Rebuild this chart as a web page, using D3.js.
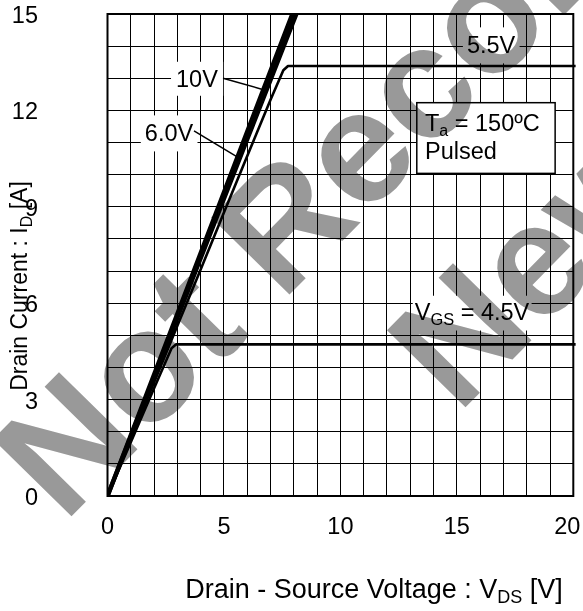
<!DOCTYPE html>
<html><head><meta charset="utf-8">
<script src="https://cdn.jsdelivr.net/npm/d3@7"></script>
<style>
html,body{margin:0;padding:0;background:#fff;}
svg text{font-family:"Liberation Sans",Arial,sans-serif;}
</style>
</head><body>
<svg id="c" width="583" height="611"></svg>
<script>
// ---- data ----
const xTicks = [0, 5, 10, 15, 20];
const yTicks = [0, 3, 6, 9, 12, 15];
const curve10V  = [[0,0],[1,1.89],[2,3.78],[3,5.67],[4,7.56],[5,9.45],[6,11.34],[7,13.23],[8,15.12]];
const curve6V   = [[0,0],[1,1.85],[2,3.7],[3,5.55],[4,7.4],[5,9.25],[6,11.1],[7,12.95],[8,14.8],[8.3,15.35]];
const curve5_5V = [[0,0],[1,1.77],[2,3.53],[3,5.3],[4,7.05],[5,8.82],[6,10.58],[7,12.33],[7.55,13.25],[7.75,13.38],[20.1,13.38]];
const curve4_5V = [[0,0],[1,1.67],[2,3.35],[2.75,4.6],[2.95,4.72],[20.1,4.72]];
const curveLabels = ["10V", "6.0V", "5.5V", "4.5V"];

const svg = d3.select("#c");
const L = 107.5, R = 573.3, T = 14, B = 496;
const x = d3.scaleLinear().domain([0, 20]).range([L, R]);
const y = d3.scaleLinear().domain([0, 15]).range([B, T]);

// grid
const g = svg.append("g");
g.selectAll(".vx").data(d3.range(1, 20)).join("line")
  .attr("x1", d => x(d)).attr("x2", d => x(d)).attr("y1", T).attr("y2", B)
  .attr("stroke", "#000").attr("stroke-width", 1).attr("shape-rendering", "crispEdges");
g.selectAll(".hy").data(d3.range(1, 15)).join("line")
  .attr("y1", d => y(d)).attr("y2", d => y(d)).attr("x1", L).attr("x2", R)
  .attr("stroke", "#000").attr("stroke-width", 1).attr("shape-rendering", "crispEdges");

// tick labels
svg.append("g").selectAll("text").data(xTicks).join("text")
  .attr("x", d => x(d)).attr("dx", d => d === 20 ? -6 : 0).attr("y", 534).attr("text-anchor", "middle")
  .attr("font-size", 23.5).text(d => d);
svg.append("g").selectAll("text").data(yTicks).join("text")
  .attr("x", 38).attr("y", d => y(d)).attr("dy", "0.38em").attr("text-anchor", "end")
  .attr("font-size", 23.5).text(d => d);

// curves
svg.append("clipPath").attr("id", "clip").append("rect")
  .attr("x", L).attr("y", T).attr("width", R - L + 3).attr("height", B - T);
const line = d3.line().x(d => x(d[0])).y(d => y(d[1]));
const cg = svg.append("g").attr("clip-path", "url(#clip)");
[[curve4_5V, 2.6], [curve5_5V, 2.6], [curve6V, 4.4], [curve10V, 4.4]].forEach(([c, w]) => {
  cg.append("path").datum(c).attr("d", line).attr("fill", "none")
    .attr("stroke", "#000").attr("stroke-width", w).attr("stroke-linejoin", "round");
});

// border
svg.append("rect").attr("x", L).attr("y", T).attr("width", R - L).attr("height", B - T)
  .attr("fill", "none").attr("stroke", "#000").attr("stroke-width", 2);

// labels with white backing
function label(parts, cx, cy, size) {
  const t = svg.append("text").attr("font-size", size).attr("x", cx).attr("y", cy)
    .attr("text-anchor", "middle");
  parts.forEach(p => {
    const s = t.append("tspan").text(p.t);
    if (p.sub) s.attr("font-size", size * 0.7).attr("baseline-shift", "-30%");
  });
  return t;
}
function backed(t, px, py) {
  const bb = t.node().getBBox();
  svg.insert("rect", function(){ return t.node(); })
    .attr("x", bb.x - px).attr("y", bb.y - py).attr("width", bb.width + 2 * px)
    .attr("height", bb.height + 2 * py).attr("fill", "#fff");
}
const l10 = label([{t: curveLabels[0]}], x(3.84), y(13.0) + 8.5, 23.5); backed(l10, 5, 4);
const l6 = label([{t: curveLabels[1]}], x(2.64), y(11.3) + 8.5, 23.5); backed(l6, 4, 5);
const l55 = label([{t: curveLabels[2]}], x(16.47), y(14.04) + 8.5, 23.5); backed(l55, 4, 5);
const l45 = label([{t: "V"}, {t: "GS", sub: true}, {t: " = " + curveLabels[3]}], x(15.65), y(5.75) + 8.5, 23.5); backed(l45, 2, 3);

// leader lines
svg.append("line").attr("x1", 223).attr("y1", y(13.0)).attr("x2", x(6.62)).attr("y2", y(12.66))
  .attr("stroke", "#000").attr("stroke-width", 1.5);
svg.append("line").attr("x1", 194).attr("y1", y(11.3) - 2).attr("x2", x(5.55)).attr("y2", y(10.56))
  .attr("stroke", "#000").attr("stroke-width", 1.5);

// Ta box
svg.append("rect").attr("x", x(13.28)).attr("y", y(12.24)).attr("width", x(19.22) - x(13.28))
  .attr("height", y(10.04) - y(12.24)).attr("fill", "#fff").attr("stroke", "#000").attr("stroke-width", 1.5);
const ta = svg.append("text").attr("font-size", 23.5).attr("x", 425).attr("y", 131);
ta.append("tspan").text("T");
ta.append("tspan").text("a").attr("font-size", 16).attr("baseline-shift", "-30%");
ta.append("tspan").text(" = 150");
ta.append("tspan").text("º");
ta.append("tspan").text("C");
svg.append("text").attr("font-size", 23.5).attr("x", 425).attr("y", 159).text("Pulsed");

// axis titles
const xt = svg.append("text").attr("x", 374).attr("y", 598).attr("text-anchor", "middle").attr("font-size", 27);
xt.append("tspan").text("Drain - Source Voltage : V");
xt.append("tspan").text("DS").attr("font-size", 18).attr("baseline-shift", "-30%");
xt.append("tspan").text(" [V]");
const yt = svg.append("text").attr("transform", "translate(27,286) rotate(-90)").attr("text-anchor", "middle").attr("font-size", 23);
yt.append("tspan").text("Drain Current : I");
yt.append("tspan").text("D").attr("font-size", 16).attr("baseline-shift", "-30%");
yt.append("tspan").text(" [A]");

// watermark (multiply over everything)
const wm = svg.append("g").style("mix-blend-mode", "multiply");
wm.append("text").attr("transform", "translate(64,524) rotate(-45.5)")
  .attr("font-size", 160).attr("font-weight", "bold").attr("fill", "#999").text("Not Recommended");
wm.append("text").attr("transform", "translate(458,415) rotate(-45.5)")
  .attr("font-size", 160).attr("font-weight", "bold").attr("fill", "#999").text("New Design");
</script>
</body></html>
